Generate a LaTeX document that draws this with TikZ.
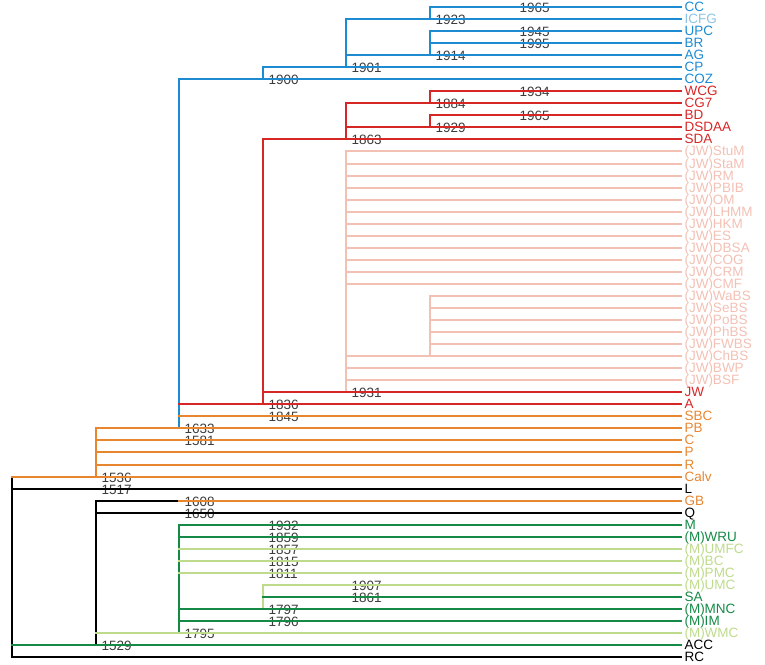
\documentclass[tikz,border=0pt]{standalone}
\usepackage{fontspec}
\setmainfont{Liberation Sans}
\definecolor{treeblue}{RGB}{28,139,210}
\definecolor{treelightblue}{RGB}{140,195,230}
\definecolor{treered}{RGB}{215,38,38}
\definecolor{treepink}{RGB}{243,192,180}
\definecolor{treeorange}{RGB}{232,134,48}
\definecolor{treegreen}{RGB}{20,138,70}
\definecolor{treelightgreen}{RGB}{190,219,140}
\definecolor{yeartext}{RGB}{60,60,60}
\newcommand\colx[1]{{round(12+83.6*#1)}}
\newcommand\rowy[1]{{round(7+12.04*#1)}}
\begin{document}
\begin{tikzpicture}[x=1pt, y=-1pt, line width=2pt, line cap=rect,
  leaf/.style={anchor=west, inner xsep=2.5pt, inner ysep=0pt, text height=9.7pt, text depth=0pt},
  yr/.style={anchor=west, inner sep=0pt, xshift=4.5pt, yshift=-0.6pt, text height=9.7pt, text depth=0pt, text=yeartext}]
\useasboundingbox (0,0) rectangle (765,664);
\begin{scope}[every node/.style={font=\fontsize{13.5}{15}\selectfont}]
% leaves
\foreach \i/\lab/\clr in {0/CC/treeblue, 1/ICFG/treelightblue, 2/UPC/treeblue, 3/BR/treeblue,
    4/AG/treeblue, 5/CP/treeblue, 6/COZ/treeblue, 7/WCG/treered, 8/CG7/treered, 9/BD/treered,
    10/DSDAA/treered, 11/SDA/treered, 12/{(JW)StuM}/treepink, 13/{(JW)StaM}/treepink,
    14/{(JW)RM}/treepink, 15/{(JW)PBIB}/treepink, 16/{(JW)OM}/treepink, 17/{(JW)LHMM}/treepink,
    18/{(JW)HKM}/treepink, 19/{(JW)ES}/treepink, 20/{(JW)DBSA}/treepink, 21/{(JW)COG}/treepink,
    22/{(JW)CRM}/treepink, 23/{(JW)CMF}/treepink, 24/{(JW)WaBS}/treepink, 25/{(JW)SeBS}/treepink,
    26/{(JW)PoBS}/treepink, 27/{(JW)PhBS}/treepink, 28/{(JW)FWBS}/treepink, 29/{(JW)ChBS}/treepink,
    30/{(JW)BWP}/treepink, 31/{(JW)BSF}/treepink, 32/JW/treered, 33/A/treered, 34/SBC/treeorange,
    35/PB/treeorange, 36/C/treeorange, 37/P/treeorange, 38/R/treeorange, 39/Calv/treeorange,
    40/L/black, 41/GB/treeorange, 42/Q/black, 43/M/treegreen, 44/{(M)WRU}/treegreen,
    45/{(M)UMFC}/treelightgreen, 46/{(M)BC}/treelightgreen, 47/{(M)PMC}/treelightgreen,
    48/{(M)UMC}/treelightgreen, 49/SA/treegreen, 50/{(M)MNC}/treegreen, 51/{(M)IM}/treegreen,
    52/{(M)WMC}/treelightgreen, 53/ACC/black, 54/RC/black}
  \node[leaf, text=\clr] (l\i) at (681,\rowy{\i}) {\lab};
% branch points and their years
\foreach \i/\k/\yr in {0/6/1965, 1/5/1923, 2/6/1945, 3/6/1995, 4/5/1914, 5/4/1901, 6/3/1900,
    7/6/1934, 8/5/1884, 9/6/1965, 10/5/1929, 11/4/1863, 32/4/1931, 33/3/1836, 34/3/1845,
    35/2/1633, 36/2/1581, 39/1/1536, 40/1/1517, 41/2/1608, 42/2/1650, 43/3/1932, 44/3/1859,
    45/3/1857, 46/3/1815, 47/3/1811, 48/4/1907, 49/4/1861, 50/3/1797, 51/3/1796, 52/2/1795,
    53/1/1529}{
  \coordinate (b\i) at (\colx{\k},\rowy{\i});
  \node[yr] (t\i) at (b\i) {\yr};
}
\coordinate (b29) at (\colx{5},\rowy{29});
\coordinate (b54) at (\colx{0},\rowy{54});
\end{scope}
% verticals
\foreach \n/\t/\clr in {1/0/treeblue, 4/2/treeblue, 5/1/treeblue, 6/5/treeblue, 35/6/treeblue,
    8/7/treered, 10/9/treered, 11/8/treered, 33/11/treered, 32/12/treepink, 29/24/treepink,
    39/35/treeorange, 54/39/black, 53/41/black, 52/43/treegreen, 50/48/treelightgreen}
  \path (b\n) edge[\clr] (b\n |- l\t.west);
% horizontals
\foreach \i/\p/\clr in {0/b1/treeblue, 1/b5/treeblue, 2/b4/treeblue, 3/b4/treeblue, 4/b5/treeblue,
    5/b6/treeblue, 6/b35/treeblue, 7/b8/treered, 8/b11/treered, 9/b10/treered, 10/b11/treered,
    11/b33/treered, 12/b32/treepink, 13/b32/treepink, 14/b32/treepink, 15/b32/treepink,
    16/b32/treepink, 17/b32/treepink, 18/b32/treepink, 19/b32/treepink, 20/b32/treepink,
    21/b32/treepink, 22/b32/treepink, 23/b32/treepink, 24/b29/treepink, 25/b29/treepink,
    26/b29/treepink, 27/b29/treepink, 28/b29/treepink, 29/b32/treepink, 30/b32/treepink,
    31/b32/treepink, 32/b33/treered, 33/b35/treered, 34/b35/treeorange, 35/b39/treeorange,
    36/b39/treeorange, 37/b39/treeorange, 38/b39/treeorange, 39/b54/treeorange, 40/b54/black,
    42/b53/black, 43/b52/treegreen, 44/b52/treegreen, 45/b52/treelightgreen,
    46/b52/treelightgreen, 47/b52/treelightgreen, 48/b50/treelightgreen, 49/b50/treegreen,
    50/b52/treegreen, 51/b52/treegreen, 52/b53/treelightgreen, 53/b54/treegreen, 54/b54/black}
  \path (\p |- l\i.west) edge[\clr] (l\i.west);
\path (b53 |- b41) edge[black] (b41)
      (b41) edge[treeorange] (l41.west);
\end{tikzpicture}
\end{document}
